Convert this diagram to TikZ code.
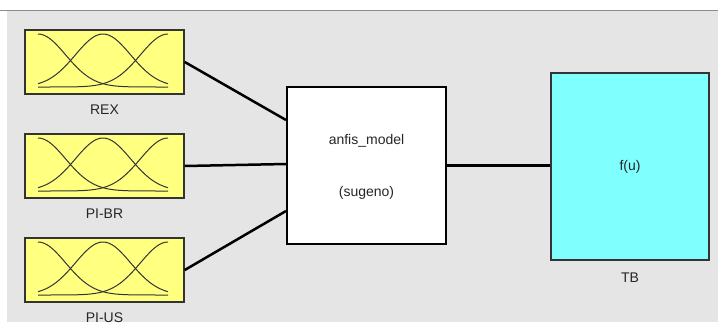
\documentclass[tikz,border=0pt]{standalone}
\usepackage{fontspec}
\setmainfont{Liberation Sans}
\usepackage{tikz}
\usetikzlibrary{positioning}
\definecolor{panelgray}{RGB}{229,229,229}
\definecolor{fisyellow}{RGB}{255,255,128}
\definecolor{tbcyan}{RGB}{128,255,255}
\tikzstyle{fisin}=[rectangle, draw=black!80, line width=1.5pt, fill=fisyellow,
        minimum width=159pt, minimum height=64pt, inner sep=0pt]
\tikzstyle{fisblock}=[rectangle, draw=black, line width=2pt, fill=white,
        minimum width=159pt, minimum height=157pt, inner sep=0pt]
\tikzstyle{outblock}=[rectangle, draw=black!80, line width=1.5pt, fill=tbcyan,
        minimum width=158pt, minimum height=187pt, inner sep=0pt,
        font=\fontsize{14}{16}\selectfont, text=black!85]
\tikzstyle{caption}=[inner sep=0pt, font=\fontsize{14}{16}\selectfont, text=black!85]
\tikzstyle{wire}=[line width=2.5pt]
\tikzstyle{mf}=[line width=1pt, black!80]

\begin{document}
\begin{tikzpicture}[x=1pt, y=-1pt, node distance=10pt]
        \useasboundingbox (0,0) rectangle (718,322);
        \fill[white] (0,0) rectangle (718,322);
        \fill[panelgray] (7,11) rectangle (718,322);
        \draw[black!45, line width=1.5pt] (0,10.5) -- (718,10.5);

        % input membership functions
        \foreach \nm/\yy/\lbl in {rex/62/REX, pibr/166/PI-BR, pius/270/PI-US}
        {
          \node (\nm) [fisin] at (104.5,\yy) {};
          \node (\nm-lbl) [caption, below=of \nm] {\lbl};
          \begin{scope}[shift={(\nm.center)}]
            \foreach \c in {-66.5,-1.5,63.5}
              \draw[mf] plot[domain=-66.5:63.5, samples=60, smooth]
                (\x, {25-53*exp(-0.5*((\x-\c)/27.6)^2)});
          \end{scope}
        }

        % fis block
        \node (model) [fisblock] at (366.5,165.5) {};
        \node (modelname) [caption] at ([yshift=24.5pt]model.center) {anfis\_model};
        \node (modeltype) [caption] at ([yshift=-27.5pt]model.center) {(sugeno)};
        \coordinate (in1) at ([yshift=45.5pt]model.west);
        \coordinate (in2) at ([yshift=1.5pt]model.west);
        \coordinate (in3) at ([yshift=-45.5pt]model.west);

        % output block
        \node (tb) [outblock] at (630,166.5) {f(u)};
        \node (tb-lbl) [caption, below=12pt of tb] {TB};

        \draw[wire] (rex.east) -- (in1);
        \draw[wire] (pibr.east) -- (in2);
        \draw[wire] (pius.east) -- (in3);
        \draw[wire] (model.east) -- (model.east -| tb.west);
\end{tikzpicture}
\end{document}
